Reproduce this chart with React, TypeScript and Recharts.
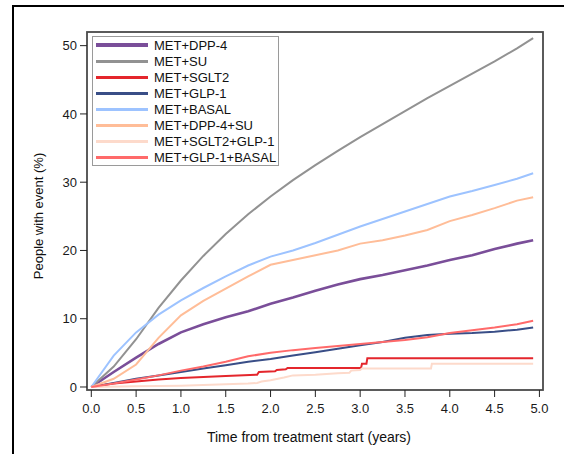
import { LineChart, Line, XAxis, YAxis, Legend, Label } from 'recharts';

// ─── Data (cumulative incidence, %) ───────────────────────────────────────────

const years = [0, 0.25, 0.5, 0.75, 1, 1.25, 1.5, 1.75, 2, 2.25, 2.5, 2.75, 3, 3.25, 3.5, 3.75, 4, 4.25, 4.5, 4.75, 4.93];

const metDpp4 = [0, 2.2, 4.3, 6.3, 8.0, 9.2, 10.2, 11.1, 12.2, 13.1, 14.1, 15.0, 15.8, 16.4, 17.1, 17.8, 18.6, 19.3, 20.2, 21.0, 21.5];
const metSu = [0, 3.0, 7.0, 11.6, 15.6, 19.2, 22.4, 25.3, 27.9, 30.3, 32.5, 34.6, 36.6, 38.5, 40.4, 42.3, 44.1, 45.9, 47.7, 49.6, 51.1];
const metGlp1 = [0, 0.6, 1.2, 1.7, 2.2, 2.7, 3.2, 3.7, 4.1, 4.6, 5.1, 5.6, 6.1, 6.6, 7.2, 7.6, 7.8, 7.9, 8.1, 8.4, 8.7];
const metBasal = [0, 4.6, 8.0, 10.6, 12.7, 14.5, 16.2, 17.8, 19.1, 20.0, 21.1, 22.3, 23.5, 24.6, 25.7, 26.8, 27.9, 28.7, 29.6, 30.5, 31.3];
const metDpp4Su = [0, 1.2, 3.3, 7.2, 10.5, 12.6, 14.4, 16.2, 17.9, 18.6, 19.3, 20.0, 21.0, 21.5, 22.2, 23.0, 24.3, 25.2, 26.2, 27.3, 27.8];
const metGlp1Basal = [0, 0.5, 1.1, 1.7, 2.4, 3.0, 3.7, 4.5, 5.0, 5.4, 5.7, 6.0, 6.3, 6.6, 6.9, 7.3, 7.9, 8.3, 8.7, 9.2, 9.7];

// these two move in visible jumps, so they get their own time points
const sglt2Years = [0, 0.25, 0.5, 0.75, 1, 1.25, 1.5, 1.85, 1.87, 2.05, 2.07, 2.17, 2.19, 3.01, 3.02, 3.07, 3.08, 4.93];
const metSglt2 = [0, 0.5, 0.8, 1.1, 1.3, 1.45, 1.6, 1.8, 2.2, 2.3, 2.5, 2.6, 2.8, 2.8, 3.4, 3.4, 4.2, 4.2];

const sglt2Glp1Years = [0, 0.5, 1, 1.5, 1.75, 1.85, 1.9, 2, 2.15, 2.25, 2.5, 2.75, 2.88, 2.9, 3, 3.02, 3.79, 3.8, 4.93];
const metSglt2Glp1 = [0, 0.1, 0.2, 0.4, 0.5, 0.6, 0.8, 1.0, 1.4, 1.7, 1.8, 2.0, 2.1, 2.4, 2.5, 2.7, 2.7, 3.4, 3.4];

const xTicks = [0, 0.5, 1, 1.5, 2, 2.5, 3, 3.5, 4, 4.5, 5];
const yTicks = [0, 10, 20, 30, 40, 50];

const X_DOMAIN: [number, number] = [-0.048, 5.04];
const Y_DOMAIN: [number, number] = [-0.44, 52];

const FONT = '"Liberation Sans", Arial, Helvetica, sans-serif';

const pts = (xs: number[], ys: number[]) => xs.map((t, i) => ({ t, v: ys[i] }));

const series = [
  { name: 'MET+DPP-4', color: '#7A4E99', width: 2.6, key: 4, data: pts(years, metDpp4) },
  { name: 'MET+SU', color: '#929292', width: 2, key: 3, data: pts(years, metSu) },
  { name: 'MET+SGLT2', color: '#E4262C', width: 2, key: 3, data: pts(sglt2Years, metSglt2) },
  { name: 'MET+GLP-1', color: '#394E87', width: 2, key: 3, data: pts(years, metGlp1) },
  { name: 'MET+BASAL', color: '#9DC3FF', width: 2, key: 3, data: pts(years, metBasal) },
  { name: 'MET+DPP-4+SU', color: '#FFBD98', width: 2, key: 3, data: pts(years, metDpp4Su) },
  { name: 'MET+SGLT2+GLP-1', color: '#FDDACB', width: 2, key: 3, data: pts(sglt2Glp1Years, metSglt2Glp1) },
  { name: 'MET+GLP-1+BASAL', color: '#FF6A6A', width: 2, key: 3, data: pts(years, metGlp1Basal) },
];

function LegendBox() {
  return (
    <div
      style={{
        border: '1px solid #9a9a9a',
        background: '#fff',
        width: 187,
        height: 130,
        boxSizing: 'border-box',
        fontFamily: FONT,
      }}
    >
      {series.map(s => (
        <div key={s.name} style={{ display: 'flex', alignItems: 'center', height: 16 }}>
          <span style={{ display: 'inline-block', width: 52, height: s.key, background: s.color, marginLeft: 3 }} />
          <span style={{ marginLeft: 6, fontSize: 13, color: '#111', whiteSpace: 'nowrap' }}>{s.name}</span>
        </div>
      ))}
    </div>
  );
}

export default function App() {
  return (
    <div style={{ position: 'fixed', left: 0, top: 0, width: 564, height: 454, overflow: 'hidden', background: '#fff' }}>
      {/* outer figure frame */}
      <div style={{ position: 'absolute', left: 12, top: 5, width: 640, height: 540, border: '2px solid #000' }} />
      <LineChart
        width={564}
        height={454}
        margin={{ top: 32, right: 21, bottom: 0, left: 0 }}
        style={{ position: 'absolute', left: 0, top: 0, fontFamily: FONT }}
      >
        <XAxis
          dataKey="t"
          type="number"
          domain={X_DOMAIN}
          allowDataOverflow
          ticks={xTicks}
          interval={0}
          tickFormatter={(v: number) => v.toFixed(1)}
          height={64}
          axisLine={false}
          tickLine={{ stroke: '#222' }}
          tickSize={7}
          tickMargin={7}
          tick={{ fill: '#1a1a1a', fontSize: 13 }}
        >
          <Label
            content={() => (
              <text x={309} y={437} textAnchor="middle" dominantBaseline="central" fontSize={14} fill="#111">
                Time from treatment start (years)
              </text>
            )}
          />
        </XAxis>
        <YAxis
          type="number"
          domain={Y_DOMAIN}
          allowDataOverflow
          ticks={yTicks}
          interval={0}
          width={87}
          axisLine={false}
          tickLine={{ stroke: '#222' }}
          tickSize={7}
          tickMargin={3}
          tick={{ fill: '#1a1a1a', fontSize: 13 }}
        >
          <Label
            content={() => (
              <text
                x={38}
                y={216}
                transform="rotate(-90 38 216)"
                textAnchor="middle"
                dominantBaseline="central"
                fontSize={13}
                fill="#111"
              >
                People with event (%)
              </text>
            )}
          />
        </YAxis>
        {/* plot box */}
        <rect x={87} y={32} width={456} height={358} fill="none" stroke="#4a4a4a" strokeWidth={1.8} />
        <Legend
          layout="vertical"
          align="center"
          verticalAlign="middle"
          wrapperStyle={{ left: 92, top: 36, width: 'auto', height: 'auto' }}
          content={() => <LegendBox />}
        />
        {series.map(s => (
          <Line
            key={s.name}
            data={s.data}
            dataKey="v"
            name={s.name}
            type="linear"
            stroke={s.color}
            strokeWidth={s.width}
            dot={false}
            activeDot={false}
            isAnimationActive={false}
          />
        ))}
      </LineChart>
    </div>
  );
}
